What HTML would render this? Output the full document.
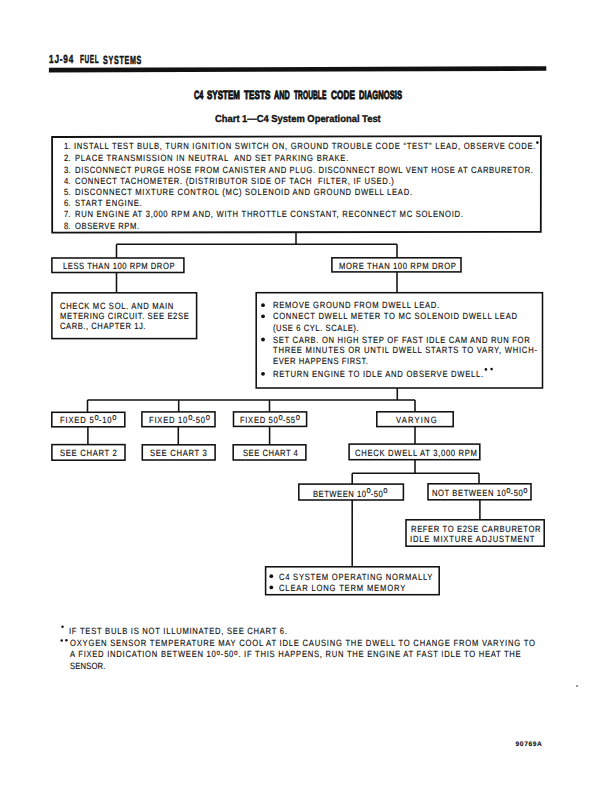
<!DOCTYPE html>
<html><head><meta charset="utf-8"><style>
html,body{margin:0;padding:0;background:#fff;}
body{width:612px;height:792px;position:relative;overflow:hidden;}
.t{position:absolute;white-space:pre;font-family:"Liberation Sans",sans-serif;color:#111;transform-origin:0 0;-webkit-text-stroke:0.15px #111;text-rendering:geometricPrecision;}
.d{font-size:1.0em;position:relative;top:-0.36em;letter-spacing:0;}
.d2{font-size:0.85em;position:relative;top:-0.27em;}
svg{position:absolute;left:0;top:0;}
</style></head><body>
<svg width="612" height="792" viewBox="0 0 612 792">
<g fill="#111">
<polygon points="48.9,67.8 546.3,66.2 546.3,70.8 48.9,72.6"/>
</g>
<g fill="none" stroke="#111" stroke-width="1.55">
<path d="M52.1,137 L540.9,136.1 L540.8,231.8 L52.2,232.6 Z" stroke-width="1.8"/>
<rect x="51.9" y="258" width="132" height="14.5"/>
<rect x="331.9" y="257.8" width="129.1" height="14.1"/>
<rect x="51.9" y="292.8" width="144.7" height="45.8"/>
<rect x="256.2" y="292.7" width="286.3" height="95.3"/>
<rect x="51.8" y="412.3" width="73" height="14.5"/>
<rect x="141.9" y="411.9" width="73.1" height="14.8"/>
<rect x="233.5" y="411.9" width="73.1" height="14.5"/>
<rect x="376.8" y="411.8" width="76.4" height="14.8"/>
<rect x="51.9" y="444.6" width="73.1" height="15.6"/>
<rect x="142.3" y="444.8" width="72.8" height="15.2"/>
<rect x="233.2" y="444.8" width="72.7" height="15.2"/>
<rect x="349.1" y="444.1" width="130.7" height="15.6"/>
<rect x="298.8" y="484.1" width="104.6" height="15.9"/>
<rect x="428" y="483.8" width="103" height="16"/>
<rect x="406" y="519.8" width="138.2" height="26.4"/>
<rect x="265.6" y="566.8" width="173.6" height="27.9"/>
<path d="M296,233 V244.3 M116.5,244.3 H397 M116.5,244.3 V258 M397,244.3 V257.8 M116.5,272.5 V292.8 M397,271.9 V292.7
M397.3,388 V400 M87.5,400 H415 M87.5,400 V412.3 M178.7,400 V411.9 M269.5,400 V411.9 M415,400 V411.8
M87.9,426.8 V444.6 M178.3,426.7 V444.8 M269.6,426.4 V444.8 M415,426.6 V444.1
M415,459.7 V473.2 M352.2,473.2 H479 M352.2,473.2 V484.1 M479,473.2 V483.8 M479.9,499.8 V519.8 M352.2,500 V566.8"/>
</g>
<g fill="#111">
<circle cx="263" cy="305.2" r="1.9"/><circle cx="263" cy="316.3" r="1.9"/><circle cx="263" cy="339.5" r="1.9"/><circle cx="263" cy="373.8" r="1.9"/>
<circle cx="271.3" cy="576.2" r="1.9"/>
<circle cx="537.4" cy="142.6" r="1.3"/><circle cx="485.9" cy="369.4" r="1.3"/><circle cx="491.6" cy="369.1" r="1.3"/>
<circle cx="62.5" cy="626.7" r="1.25"/><circle cx="61.7" cy="640.4" r="1.25"/><circle cx="66.4" cy="640.3" r="1.25"/><circle cx="271.3" cy="587.4" r="1.9"/>
</g>
<ellipse cx="577" cy="686" rx="1.3" ry="0.7" fill="#777" transform="rotate(-25 577 686)"/>
</svg>

<div class="t" id="h1" style="left:48.59px;top:54.11px;font-size:11.8px;line-height:11.8px;font-weight:700;transform:scaleX(0.6942);letter-spacing:1.200px;-webkit-text-stroke:0.5px #111;">1J-94</div>
<div class="t" id="h2a" style="left:80.39px;top:54.11px;font-size:11.8px;line-height:11.8px;font-weight:700;transform:scaleX(0.5440);letter-spacing:1.200px;-webkit-text-stroke:0.5px #111;">FUEL</div>
<div class="t" id="h2b" style="left:103.29px;top:55.11px;font-size:11.8px;line-height:11.8px;font-weight:700;transform:scaleX(0.6033);letter-spacing:1.200px;-webkit-text-stroke:0.5px #111;">SYSTEMS</div>
<div class="t" id="tw0" style="left:193.58px;top:89.38px;font-size:12.0px;line-height:12.0px;font-weight:700;transform:scaleX(0.6059);letter-spacing:0.100px;-webkit-text-stroke:0.9px #111;">C4</div>
<div class="t" id="tw1" style="left:207.48px;top:89.38px;font-size:12.0px;line-height:12.0px;font-weight:700;transform:scaleX(0.6600);letter-spacing:0.100px;-webkit-text-stroke:0.9px #111;">SYSTEM</div>
<div class="t" id="tw2" style="left:243.58px;top:89.38px;font-size:12.0px;line-height:12.0px;font-weight:700;transform:scaleX(0.6754);letter-spacing:0.100px;-webkit-text-stroke:0.9px #111;">TESTS</div>
<div class="t" id="tw3" style="left:274.38px;top:89.38px;font-size:12.0px;line-height:12.0px;font-weight:700;transform:scaleX(0.6022);letter-spacing:0.100px;-webkit-text-stroke:0.9px #111;">AND</div>
<div class="t" id="tw4" style="left:293.98px;top:89.38px;font-size:12.0px;line-height:12.0px;font-weight:700;transform:scaleX(0.5519);letter-spacing:0.100px;-webkit-text-stroke:0.9px #111;">TROUBLE</div>
<div class="t" id="tw5" style="left:331.08px;top:89.38px;font-size:12.0px;line-height:12.0px;font-weight:700;transform:scaleX(0.6829);letter-spacing:0.100px;-webkit-text-stroke:0.9px #111;">CODE</div>
<div class="t" id="tw6" style="left:359.28px;top:89.38px;font-size:12.0px;line-height:12.0px;font-weight:700;transform:scaleX(0.6310);letter-spacing:0.100px;-webkit-text-stroke:0.9px #111;">DIAGNOSIS</div>
<div class="t" id="sub" style="left:215.20px;top:115.20px;font-size:10px;line-height:10px;font-weight:700;transform:scaleX(0.9388);-webkit-text-stroke:0.35px #111;">Chart 1—C4 System Operational Test</div>
<div class="t" id="mn1" style="left:63.55px;top:142.30px;font-size:9.1px;line-height:9.1px;font-weight:400;transform:scaleX(0.8400);">1.</div>
<div class="t" id="m1" style="left:73.75px;top:142.30px;font-size:9.1px;line-height:9.1px;font-weight:400;transform:scaleX(0.8400);letter-spacing:0.856px;">INSTALL TEST BULB, TURN IGNITION SWITCH ON, GROUND TROUBLE CODE “TEST” LEAD, OBSERVE CODE.</div>
<div class="t" id="mn2" style="left:63.55px;top:154.20px;font-size:9.1px;line-height:9.1px;font-weight:400;transform:scaleX(0.8400);">2.</div>
<div class="t" id="m2" style="left:74.75px;top:154.20px;font-size:9.1px;line-height:9.1px;font-weight:400;transform:scaleX(0.8400);letter-spacing:0.870px;">PLACE TRANSMISSION IN NEUTRAL  AND SET PARKING BRAKE.</div>
<div class="t" id="mn3" style="left:63.55px;top:165.50px;font-size:9.1px;line-height:9.1px;font-weight:400;transform:scaleX(0.8400);">3.</div>
<div class="t" id="m3" style="left:74.75px;top:165.50px;font-size:9.1px;line-height:9.1px;font-weight:400;transform:scaleX(0.8400);letter-spacing:0.770px;">DISCONNECT PURGE HOSE FROM CANISTER AND PLUG. DISCONNECT BOWL VENT HOSE AT CARBURETOR.</div>
<div class="t" id="mn4" style="left:63.55px;top:176.70px;font-size:9.1px;line-height:9.1px;font-weight:400;transform:scaleX(0.8400);">4.</div>
<div class="t" id="m4" style="left:74.75px;top:176.70px;font-size:9.1px;line-height:9.1px;font-weight:400;transform:scaleX(0.8400);letter-spacing:0.831px;">CONNECT TACHOMETER. (DISTRIBUTOR SIDE OF TACH  FILTER, IF USED.)</div>
<div class="t" id="mn5" style="left:63.55px;top:187.80px;font-size:9.1px;line-height:9.1px;font-weight:400;transform:scaleX(0.8400);">5.</div>
<div class="t" id="m5" style="left:74.75px;top:187.80px;font-size:9.1px;line-height:9.1px;font-weight:400;transform:scaleX(0.8400);letter-spacing:0.845px;">DISCONNECT MIXTURE CONTROL (MC) SOLENOID AND GROUND DWELL LEAD.</div>
<div class="t" id="mn6" style="left:63.55px;top:199.00px;font-size:9.1px;line-height:9.1px;font-weight:400;transform:scaleX(0.8400);">6.</div>
<div class="t" id="m6" style="left:74.75px;top:199.00px;font-size:9.1px;line-height:9.1px;font-weight:400;transform:scaleX(0.8400);letter-spacing:0.893px;">START ENGINE.</div>
<div class="t" id="mn7" style="left:63.55px;top:210.10px;font-size:9.1px;line-height:9.1px;font-weight:400;transform:scaleX(0.8400);">7.</div>
<div class="t" id="m7" style="left:74.75px;top:210.10px;font-size:9.1px;line-height:9.1px;font-weight:400;transform:scaleX(0.8400);letter-spacing:0.837px;">RUN ENGINE AT 3,000 RPM AND, WITH THROTTLE CONSTANT, RECONNECT MC SOLENOID.</div>
<div class="t" id="mn8" style="left:63.55px;top:221.50px;font-size:9.1px;line-height:9.1px;font-weight:400;transform:scaleX(0.8400);">8.</div>
<div class="t" id="m8" style="left:74.75px;top:221.50px;font-size:9.1px;line-height:9.1px;font-weight:400;transform:scaleX(0.8400);letter-spacing:0.649px;">OBSERVE RPM.</div>
<div class="t" id="less" style="left:62.65px;top:262.00px;font-size:9.1px;line-height:9.1px;font-weight:400;transform:scaleX(0.8400);letter-spacing:0.624px;">LESS THAN 100 RPM DROP</div>
<div class="t" id="more" style="left:339.45px;top:261.50px;font-size:9.1px;line-height:9.1px;font-weight:400;transform:scaleX(0.8400);letter-spacing:0.737px;">MORE THAN 100 RPM DROP</div>
<div class="t" id="ck1" style="left:60.05px;top:301.90px;font-size:9.1px;line-height:9.1px;font-weight:400;transform:scaleX(0.8400);letter-spacing:0.794px;">CHECK MC SOL. AND MAIN</div>
<div class="t" id="ck2" style="left:60.05px;top:311.90px;font-size:9.1px;line-height:9.1px;font-weight:400;transform:scaleX(0.8400);letter-spacing:0.714px;">METERING CIRCUIT. SEE E2SE</div>
<div class="t" id="ck3" style="left:60.05px;top:321.90px;font-size:9.1px;line-height:9.1px;font-weight:400;transform:scaleX(0.8400);letter-spacing:0.630px;">CARB., CHAPTER 1J.</div>
<div class="t" id="b1" style="left:273.25px;top:301.20px;font-size:9.1px;line-height:9.1px;font-weight:400;transform:scaleX(0.8400);letter-spacing:0.821px;">REMOVE GROUND FROM DWELL LEAD.</div>
<div class="t" id="b2" style="left:273.25px;top:312.30px;font-size:9.1px;line-height:9.1px;font-weight:400;transform:scaleX(0.8400);letter-spacing:0.839px;">CONNECT DWELL METER TO MC SOLENOID DWELL LEAD</div>
<div class="t" id="b3" style="left:273.25px;top:323.70px;font-size:9.1px;line-height:9.1px;font-weight:400;transform:scaleX(0.8400);letter-spacing:0.661px;">(USE 6 CYL. SCALE).</div>
<div class="t" id="b4" style="left:273.25px;top:335.50px;font-size:9.1px;line-height:9.1px;font-weight:400;transform:scaleX(0.8400);letter-spacing:0.786px;">SET CARB. ON HIGH STEP OF FAST IDLE CAM AND RUN FOR</div>
<div class="t" id="b5" style="left:273.25px;top:345.80px;font-size:9.1px;line-height:9.1px;font-weight:400;transform:scaleX(0.8400);letter-spacing:0.905px;">THREE MINUTES OR UNTIL DWELL STARTS TO VARY, WHICH-</div>
<div class="t" id="b6" style="left:273.25px;top:356.90px;font-size:9.1px;line-height:9.1px;font-weight:400;transform:scaleX(0.8400);letter-spacing:0.661px;">EVER HAPPENS FIRST.</div>
<div class="t" id="b7" style="left:273.25px;top:369.80px;font-size:9.1px;line-height:9.1px;font-weight:400;transform:scaleX(0.8400);letter-spacing:0.855px;">RETURN ENGINE TO IDLE AND OBSERVE DWELL.</div>
<div class="t" id="fx1" style="left:60.35px;top:416.10px;font-size:9.1px;line-height:9.1px;font-weight:400;transform:scaleX(0.8400);letter-spacing:0.974px;">FIXED 5<span class="d">o</span>-10<span class="d">o</span></div>
<div class="t" id="fx2" style="left:149.25px;top:416.10px;font-size:9.1px;line-height:9.1px;font-weight:400;transform:scaleX(0.8400);letter-spacing:0.893px;">FIXED 10<span class="d">o</span>-50<span class="d">o</span></div>
<div class="t" id="fx3" style="left:240.35px;top:416.10px;font-size:9.1px;line-height:9.1px;font-weight:400;transform:scaleX(0.8400);letter-spacing:0.794px;">FIXED 50<span class="d">o</span>-55<span class="d">o</span></div>
<div class="t" id="var" style="left:396.45px;top:415.80px;font-size:9.1px;line-height:9.1px;font-weight:400;transform:scaleX(0.8400);letter-spacing:1.389px;">VARYING</div>
<div class="t" id="sc2" style="left:60.05px;top:449.00px;font-size:9.1px;line-height:9.1px;font-weight:400;transform:scaleX(0.8400);letter-spacing:0.833px;">SEE CHART 2</div>
<div class="t" id="sc3" style="left:150.15px;top:449.00px;font-size:9.1px;line-height:9.1px;font-weight:400;transform:scaleX(0.8400);letter-spacing:0.833px;">SEE CHART 3</div>
<div class="t" id="sc4" style="left:243.05px;top:449.00px;font-size:9.1px;line-height:9.1px;font-weight:400;transform:scaleX(0.8400);letter-spacing:0.595px;">SEE CHART 4</div>
<div class="t" id="cdw" style="left:354.55px;top:448.60px;font-size:9.1px;line-height:9.1px;font-weight:400;transform:scaleX(0.8400);letter-spacing:0.828px;">CHECK DWELL AT 3,000 RPM</div>
<div class="t" id="btw" style="left:312.75px;top:489.70px;font-size:9.1px;line-height:9.1px;font-weight:400;transform:scaleX(0.8400);letter-spacing:0.595px;">BETWEEN 10<span class="d">o</span>-50<span class="d">o</span></div>
<div class="t" id="nbt" style="left:431.95px;top:488.90px;font-size:9.1px;line-height:9.1px;font-weight:400;transform:scaleX(0.8400);letter-spacing:0.661px;">NOT BETWEEN 10<span class="d">o</span>-50<span class="d">o</span></div>
<div class="t" id="rf1" style="left:411.45px;top:525.00px;font-size:9.1px;line-height:9.1px;font-weight:400;transform:scaleX(0.8400);letter-spacing:0.725px;">REFER TO E2SE CARBURETOR</div>
<div class="t" id="rf2" style="left:410.45px;top:535.10px;font-size:9.1px;line-height:9.1px;font-weight:400;transform:scaleX(0.8400);letter-spacing:0.974px;">IDLE MIXTURE ADJUSTMENT</div>
<div class="t" id="c41" style="left:279.25px;top:572.80px;font-size:9.1px;line-height:9.1px;font-weight:400;transform:scaleX(0.8400);letter-spacing:0.882px;">C4 SYSTEM OPERATING NORMALLY</div>
<div class="t" id="c42" style="left:279.25px;top:583.50px;font-size:9.1px;line-height:9.1px;font-weight:400;transform:scaleX(0.8400);letter-spacing:0.964px;">CLEAR LONG TERM MEMORY</div>
<div class="t" id="fn1" style="left:69.45px;top:627.30px;font-size:9.1px;line-height:9.1px;font-weight:400;transform:scaleX(0.8400);letter-spacing:0.866px;">IF TEST BULB IS NOT ILLUMINATED, SEE CHART 6.</div>
<div class="t" id="fn2" style="left:70.45px;top:638.70px;font-size:9.1px;line-height:9.1px;font-weight:400;transform:scaleX(0.8400);letter-spacing:0.910px;">OXYGEN SENSOR TEMPERATURE MAY COOL AT IDLE CAUSING THE DWELL TO CHANGE FROM VARYING TO</div>
<div class="t" id="fn3" style="left:70.45px;top:650.10px;font-size:9.1px;line-height:9.1px;font-weight:400;transform:scaleX(0.8400);letter-spacing:0.863px;">A FIXED INDICATION BETWEEN 10<span class="d2">o</span>-50<span class="d2">o</span>. IF THIS HAPPENS, RUN THE ENGINE AT FAST IDLE TO HEAT THE</div>
<div class="t" id="fn4" style="left:70.45px;top:661.60px;font-size:9.1px;line-height:9.1px;font-weight:400;transform:scaleX(0.8400);letter-spacing:0.198px;">SENSOR.</div>
<div class="t" id="code" style="left:515.60px;top:741.64px;font-size:6.6px;line-height:6.6px;font-weight:700;letter-spacing:0.600px;">90769A</div>
</body></html>
